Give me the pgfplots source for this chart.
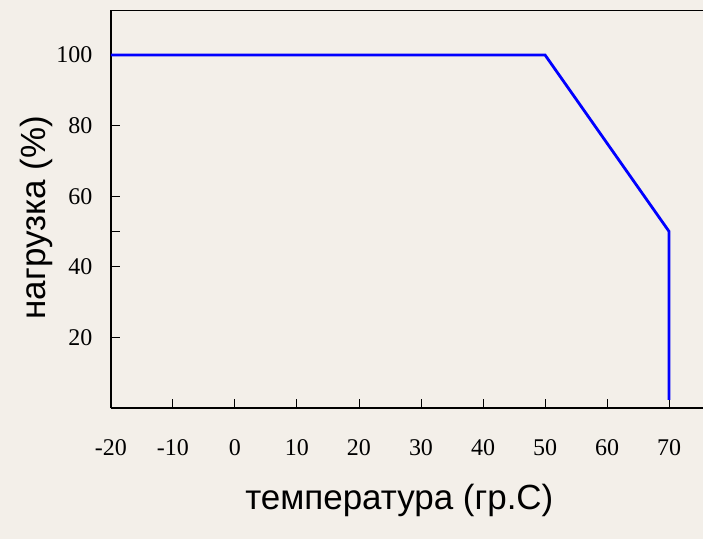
\documentclass[border=0pt]{standalone}
\usepackage{pgfplots}
\pgfplotsset{compat=1.18}
\usepackage{fontspec}
\setmainfont{Liberation Serif}
\newfontfamily\arialcyr{Liberation Sans}
\definecolor{bgcol}{RGB}{243,239,233}
\definecolor{curve}{RGB}{0,0,255}

\begin{document}
\begin{tikzpicture}[x=1pt,y=1pt]
% background, same size as the picture
\fill[bgcol] (-111,-131.5) rectangle (593,408.5);
\begin{axis}[
    at={(0,0)}, anchor=south west,
    scale only axis,
    width=593pt, height=398pt,
    xmin=-20, xmax=75.5,
    ymin=0, ymax=112.6,
    axis x line*=box,
    axis y line*=left,
    axis line style={black, line width=1.6pt},
    xtick={-20,-10,0,10,20,30,40,50,60,70},
    ytick={20,40,60,80,100},
    extra y ticks={50},
    extra y tick labels={},
    xtick pos=bottom,
    ytick pos=left,
    tick align=inside,
    major tick length=9pt,
    tick style={black, line width=0.9pt},
    /pgf/number format/assume math mode=true,
    tick label style={font=\fontsize{24}{28}\selectfont},
    xticklabel style={yshift=-28pt},
    yticklabel style={xshift=-15pt},
    xlabel={\arialcyr температура (гр.С)},
    ylabel={\arialcyr нагрузка (\%)},
    label style={font=\fontsize{35}{40}\selectfont},
    xlabel style={at={(axis description cs:0.487,0)}, anchor=center, yshift=-93pt},
    ylabel style={at={(axis description cs:0,0.479)}, anchor=center, yshift=74pt},
    clip=false,
]
\addplot[curve, line width=2.8pt, line join=miter] coordinates {
    (-20,100) (50,100) (70,50) (70,2.3)
};
\end{axis}
\end{tikzpicture}
\end{document}
